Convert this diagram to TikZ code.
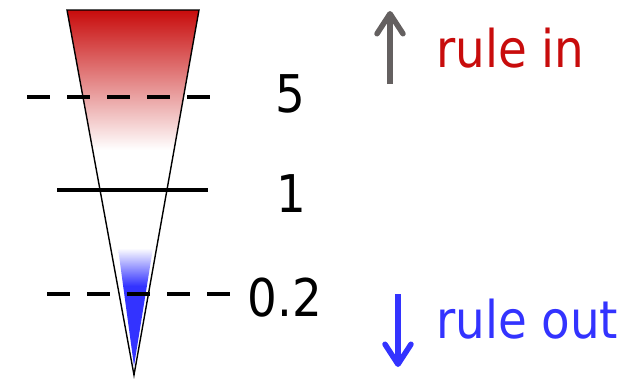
\documentclass[tikz,border=0pt]{standalone}
\usepackage{fontspec}
\setmainfont{DejaVu Sans Condensed}
\usetikzlibrary{arrows.meta}
\definecolor{rred}{RGB}{200,12,12}
\definecolor{rblue}{RGB}{51,51,255}
\definecolor{agray}{RGB}{100,96,96}
\tikzset{
  cutline/.style={line width=4pt},
  dashcut/.style={cutline, dash pattern=on 23pt off 17pt},
  lbl/.style={inner sep=0pt, font=\fontsize{52}{60}\selectfont},
  bigarrow/.style={line width=5.5pt, -{Straight Barb[round, length=20pt, width=26pt, line width=5.5pt]}},
}
\begin{document}
\begin{tikzpicture}[x=1pt,y=-1pt]
\useasboundingbox (0,0) rectangle (641,380);
\coordinate (tl) at (67,10);
\coordinate (tr) at (199,10);
\coordinate (ap) at (134,375);
% red gradient
\begin{scope}
  \clip (tl) -- (tr) -- (ap) -- cycle;
  \shade[top color=rred, bottom color=white] (60,10) rectangle (210,150);
\end{scope}
\draw[line width=1.4pt, line join=miter] (tl) -- (tr) -- (ap) -- cycle;
% blue region
\begin{scope}
  \clip (118,248) -- (153,248) -- (134,366) -- cycle;
  \fill[rblue] (100,285) rectangle (170,370);
  \shade[top color=white, bottom color=rblue] (100,248) rectangle (170,286);
\end{scope}
% threshold lines
\coordinate (d5a) at (27,97); \coordinate (d5b) at (212,97);
\coordinate (s1a) at (57,190); \coordinate (s1b) at (208,190);
\coordinate (d2a) at (47,294); \coordinate (d2b) at (230,294);
\draw[dashcut] (d5a) -- (d5b);
\draw[cutline] (s1a) -- (s1b);
\draw[dashcut] (d2a) -- (d2b);
% labels
\node[lbl, anchor=base] (n5) at (290,112) {5};
\node[lbl, anchor=base] (n1) at (291,212) {1};
\node[lbl, anchor=base] (n02) at (285,316) {0.2};
\node[lbl, anchor=base west, text=rred] (rin) at (436,67) {rule in};
\node[lbl, anchor=base west, text=rblue] (rout) at (436,338) {rule out};
% arrows
\coordinate (ua) at (390,84); \coordinate (ub) at (390,11);
\coordinate (da) at (398,294); \coordinate (db) at (398,367);
\draw[bigarrow, agray] (ua) -- (ub);
\draw[bigarrow, rblue] (da) -- (db);
\end{tikzpicture}
\end{document}
